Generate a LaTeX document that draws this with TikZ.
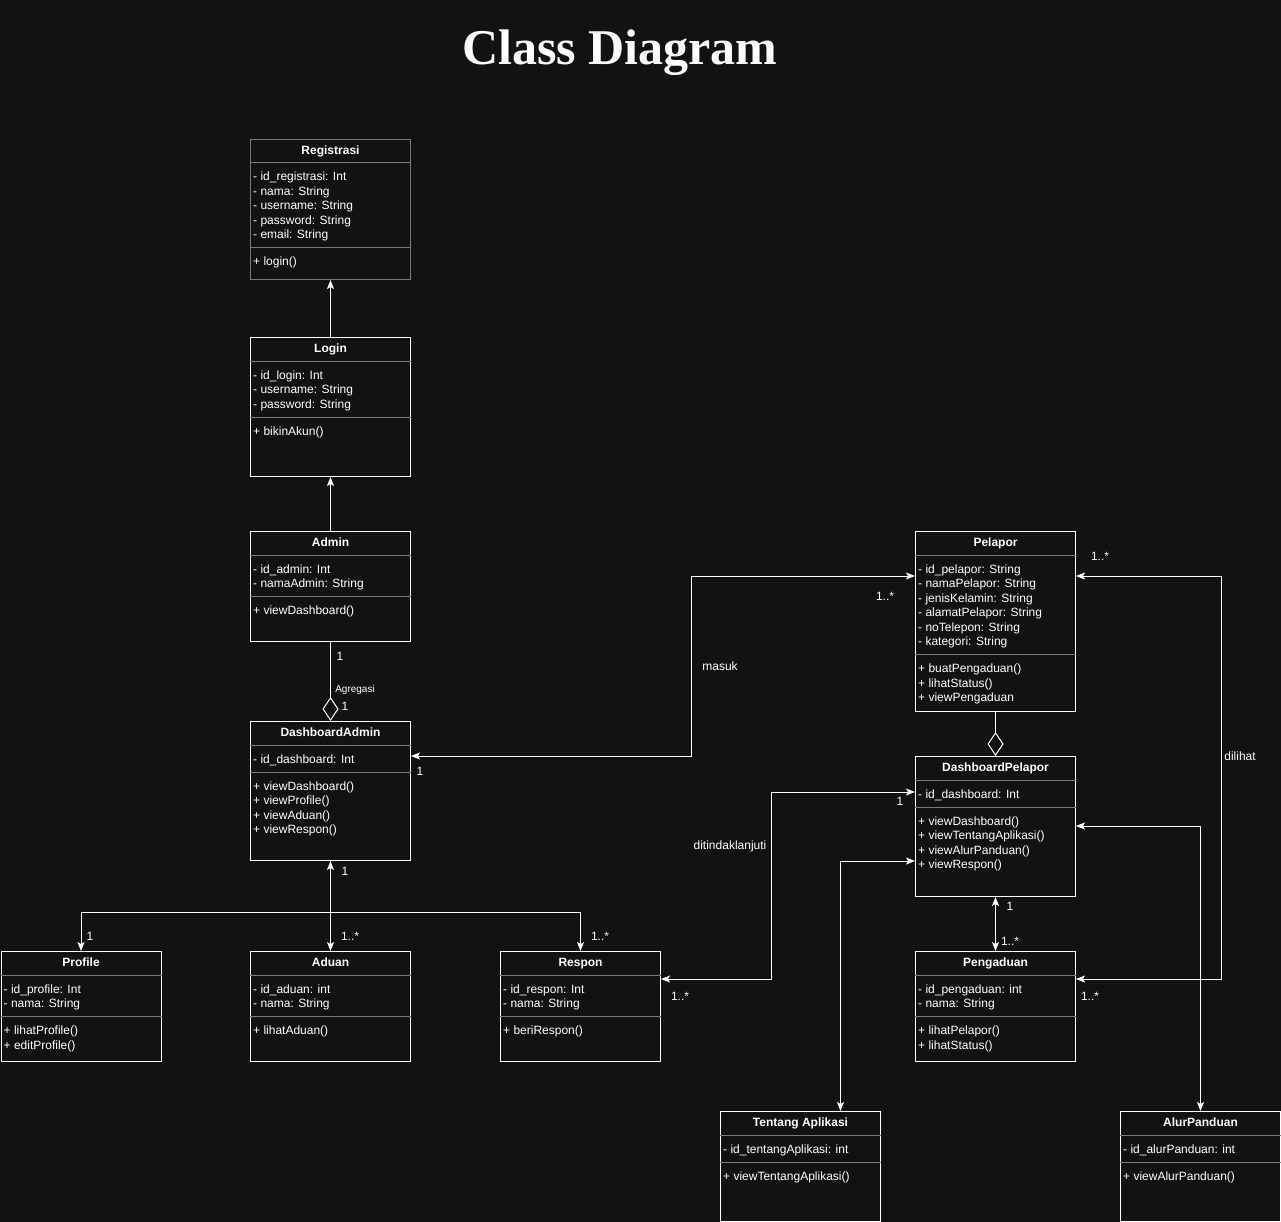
\documentclass[tikz,border=0pt]{standalone}
\usepackage{fontspec}
\setmainfont{Liberation Sans}
\newfontfamily\titlefont{Liberation Serif}
\usetikzlibrary{arrows.meta,calc}

\definecolor{bgdark}{HTML}{121212}
\definecolor{sepgray}{HTML}{7A7A7A}

\tikzset{
    classbox/.style={line width=1pt, fill=bgdark, inner sep=0pt},
    classtitle/.style={text=white, inner sep=0pt, font=\fontsize{12}{14}\selectfont\bfseries},
    member/.style={text=white, inner sep=0pt, anchor=base west, font=\fontsize{12}{14}\selectfont},
    sepline/.style={draw=sepgray, line width=1pt},
    conn/.style={draw=white, line width=1pt},
    assoc/.style={conn, -{Stealth[length=9pt,width=7pt,inset=2pt]}},
    biassoc/.style={conn, {Stealth[length=9pt,width=7pt,inset=2pt]}-{Stealth[length=9pt,width=7pt,inset=2pt]}},
    aggr/.style={conn, -{Diamond[open,length=24pt,width=16pt]}},
    lbl/.style={text=white, inner sep=0pt, font=\fontsize{12}{14}\selectfont},
}

% #1 border colour, #2 name, #3 top left, #4 width, #5 height, #6 title, #7 attributes, #8 methods
\newcommand{\umlclass}[8][white]{%
    \node[classbox, draw=#1, minimum width=#4pt, minimum height=#5pt, anchor=north west] (#2) at (#3) {};
    \node[classtitle, anchor=base] (#2-title) at ($(#2.north)+(0,15.5)$) {#6};
    \draw[sepline] ($(#2.north west)+(0,24)$) -- ($(#2.north east)+(0,24)$);
    \foreach \entry [count=\i] in {#7} {
        \node[member] at ($(#2.north west)+(3,{42+14.5*(\i-1)})$) {\entry};
        \xdef\nattr{\i}
    }
    \pgfmathsetmacro\septwo{36.5+14.5*\nattr}
    \draw[sepline] ($(#2.north west)+(0,\septwo)$) -- ($(#2.north east)+(0,\septwo)$);
    \foreach \entry [count=\i] in {#8}
        \node[member] at ($(#2.north west)+(3,{\septwo+18+14.5*(\i-1)})$) {\entry};
}

\begin{document}
\begin{tikzpicture}[x=1pt, y=-1pt]
    \fill[bgdark] (0,0) rectangle (1281,1222);
    \useasboundingbox (0,0) rectangle (1281,1222);

    \node[text=white, inner sep=0pt, anchor=base, font=\titlefont\fontsize{50}{56}\selectfont\bfseries] (title) at (620,65) {Class Diagram};

    % Admin side
    \umlclass[sepgray]{registrasi}{250,139}{160}{140}{Registrasi}{- id\_registrasi: Int, - nama: String, - username: String, - password: String, - email: String}{+ login()}
    \umlclass{login}{250,337}{160}{139}{Login}{- id\_login: Int, - username: String, - password: String}{+ bikinAkun()}
    \umlclass{admin}{250,531}{160}{110}{Admin}{- id\_admin: Int, - namaAdmin: String}{+ viewDashboard()}
    \umlclass{dashadmin}{250,721}{160}{139}{DashboardAdmin}{- id\_dashboard: Int}{+ viewDashboard(), + viewProfile(), + viewAduan(), + viewRespon()}
    \umlclass{profile}{0.5,951}{160}{110}{Profile}{- id\_profile: Int, - nama: String}{+ lihatProfile(), + editProfile()}
    \umlclass{aduan}{250,951}{160}{110}{Aduan}{- id\_aduan: int, - nama: String}{+ lihatAduan()}
    \umlclass{respon}{500,951}{160}{110}{Respon}{- id\_respon: Int, - nama: String}{+ beriRespon()}

    % Pelapor side
    \umlclass{pelapor}{915,531}{160}{180}{Pelapor}{- id\_pelapor: String, - namaPelapor: String, - jenisKelamin: String, - alamatPelapor: String, - noTelepon: String, - kategori: String}{+ buatPengaduan(), + lihatStatus(), + viewPengaduan}
    \umlclass{dashpel}{915,756}{160}{140}{DashboardPelapor}{- id\_dashboard: Int}{+ viewDashboard(), + viewTentangAplikasi(), + viewAlurPanduan(), + viewRespon()}
    \umlclass{pengaduan}{915,951}{160}{110}{Pengaduan}{- id\_pengaduan: int, - nama: String}{+ lihatPelapor(), + lihatStatus()}
    \umlclass{tentang}{720,1111}{160}{110}{Tentang Aplikasi}{- id\_tentangAplikasi: int}{+ viewTentangAplikasi()}
    \umlclass{alur}{1120,1111}{160}{110}{AlurPanduan}{- id\_alurPanduan: int}{+ viewAlurPanduan()}

    % connectors
    \draw[assoc] (login.north) -- (registrasi.south);
    \draw[assoc] (admin.north) -- (login.south);
    \draw[aggr] (admin.south) -- (dashadmin.north);
    \draw[biassoc] (dashadmin.south) -- (aduan.north);
    \draw[assoc] (dashadmin.south) -- ++(0,51) -| (profile.north);
    \draw[assoc] (dashadmin.south) -- ++(0,51) -| (respon.north);
    \draw[biassoc] ($(dashadmin.north east)+(0,35)$) -- ++(280,0) |- ($(pelapor.north west)+(0,45)$);
    \draw[biassoc] ($(respon.north east)+(0,28)$) -- ++(110,0) |- ($(dashpel.north west)+(0,36)$);
    \draw[biassoc] ($(tentang.north)+(40,0)$) |- ($(dashpel.north west)+(0,105)$);
    \draw[biassoc] (alur.north) |- ($(dashpel.north east)+(0,70)$);
    \draw[aggr] (pelapor.south) -- (dashpel.north);
    \draw[biassoc] (dashpel.south) -- (pengaduan.north);
    \draw[biassoc] ($(pengaduan.north east)+(0,28)$) -- ++(145,0) |- ($(pelapor.north east)+(0,45)$);

    % multiplicities and labels
    \node[lbl] (m-admin) at (340,656) {1};
    \node[lbl, font=\fontsize{10}{12}\selectfont] (l-agregasi) at (355,690) {Agregasi};
    \node[lbl] (m-dashadmin-top) at (345,706) {1};
    \node[lbl] (m-dashadmin-right) at (420,771) {1};
    \node[lbl] (l-masuk) at (720,666) {masuk};
    \node[lbl] (m-pelapor-left) at (885,596) {1..*};
    \node[lbl] (m-dashadmin-bottom) at (345,871) {1};
    \node[lbl] (m-profile) at (90,936) {1};
    \node[lbl] (m-aduan) at (350,936) {1..*};
    \node[lbl] (m-respon-top) at (600,936) {1..*};
    \node[lbl] (l-ditindaklanjuti) at (730,846) {ditindaklanjuti};
    \node[lbl] (m-dashpel-left) at (900,801) {1};
    \node[lbl] (m-respon-right) at (680,996) {1..*};
    \node[lbl] (m-pelapor-right) at (1100,556) {1..*};
    \node[lbl] (l-dilihat) at (1240,756) {dilihat};
    \node[lbl] (m-dashpel-bottom) at (1010,906) {1};
    \node[lbl] (m-pengaduan-top) at (1010,941) {1..*};
    \node[lbl] (m-pengaduan-right) at (1090,996) {1..*};
\end{tikzpicture}
\end{document}
